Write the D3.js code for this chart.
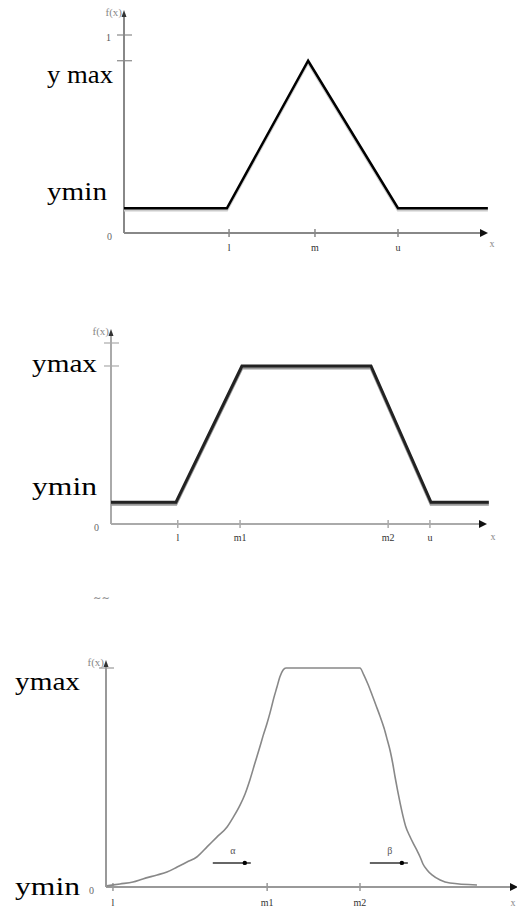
<!DOCTYPE html>
<html>
<head>
<meta charset="utf-8">
<script src="https://cdn.jsdelivr.net/npm/d3@7"></script>
<style>
  html, body { margin: 0; padding: 0; background: #fff; }
  svg { display: block; }
  text { font-family: "Liberation Serif", "DejaVu Serif", serif; }
</style>
</head>
<body>
<div id="chart"></div>
<script>
// --- data: triangular membership function ---
const triX = [0, 2.85, 5.1, 7.59, 10.08];
const triY = [0.125, 0.125, 0.87, 0.125, 0.125];
const triTicks = [2.91, 5.29, 7.59];
const triTickLabels = ["l", "m", "u"];
const triYTicks = [1, 0.87];

// --- data: trapezoidal membership function ---
const trapX = [0, 1.74, 3.51, 6.97, 8.58, 10.13];
const trapY = [0.12, 0.12, 0.873, 0.873, 0.12, 0.12];
const trapTicks = [1.79, 3.46, 7.43, 8.55];
const trapTickLabels = ["l", "m1", "m2", "u"];
const trapYTicks = [1, 0.873];

// --- data: smooth (bell-like) membership function ---
const bellX = [0.02, 0.34, 0.66, 0.90, 1.25, 1.49, 1.74, 1.98, 2.22, 2.47, 2.71, 2.96, 3.11, 3.28,
  3.40, 3.52, 3.64, 3.77, 3.84, 3.94, 4.01, 4.11, 4.18, 4.25, 4.33, 4.40,
  6.21, 6.30, 6.40, 6.50, 6.60, 6.70, 6.80, 6.88, 6.95, 7.01, 7.07, 7.13, 7.19, 7.26,
  7.33, 7.42, 7.51, 7.60, 7.68, 7.75, 7.85, 7.97, 8.17, 8.41, 9.07];
const bellY = [0.005, 0.014, 0.023, 0.037, 0.055, 0.068, 0.091, 0.114, 0.137, 0.183, 0.228, 0.274, 0.318, 0.375,
  0.425, 0.490, 0.565, 0.645, 0.690, 0.749, 0.795, 0.868, 0.913, 0.959, 0.991, 1.0,
  1.0, 0.970, 0.928, 0.880, 0.830, 0.780, 0.725, 0.670, 0.620, 0.565, 0.500, 0.440, 0.384, 0.325,
  0.275, 0.235, 0.200, 0.168, 0.137, 0.105, 0.078, 0.055, 0.032, 0.018, 0.009];
const bellTicks = [0.17, 3.94, 6.21];
const bellTickLabels = ["l", "m1", "m2"];
const bellYTicks = [1];
const noteLabels = ["α", "β"];
const noteX = [3.1, 6.94];
const noteY = [0.11, 0.11];

const width = 517, height = 908;
const svg = d3.select("#chart").append("svg")
  .attr("width", width).attr("height", height);

const panels = [
  {
    xs: triX, ys: triY, ticks: triTicks, tickLabels: triTickLabels, yTicks: triYTicks,
    left: 124, right: 485, base: 233, top: 35, axisTop: 14,
    axisColor: "#888", lineColor: "#000", lineWidth: 2.5, shadow: "#ccc", curve: d3.curveLinear,
    ymaxLabel: "y max", ymaxPos: [47, 83, 66], yminPos: [47, 200, 60],
    oneLabel: true, labelY: 251, xLabelPos: [492, 247]
  },
  {
    xs: trapX, ys: trapY, ticks: trapTicks, tickLabels: trapTickLabels, yTicks: trapYTicks,
    left: 111, right: 484, base: 524, top: 343, axisTop: 333,
    axisColor: "#aaa", lineColor: "#222", lineWidth: 3, shadow: "#999", curve: d3.curveLinear,
    ymaxLabel: "ymax", ymaxPos: [32, 372, 65], yminPos: [32, 495, 65],
    oneLabel: false, labelY: 541, xLabelPos: [493, 540]
  },
  {
    xs: bellX, ys: bellY, ticks: bellTicks, tickLabels: bellTickLabels, yTicks: bellYTicks,
    left: 106, right: 515, base: 887, top: 668, axisTop: 664,
    axisColor: "#999", lineColor: "#888", lineWidth: 1.6, shadow: null, curve: d3.curveMonotoneX,
    ymaxLabel: "ymax", ymaxPos: [15, 690, 65], yminPos: [15, 895, 65],
    oneLabel: false, labelY: 906, xLabelPos: [513, 906], notes: true
  }
];

panels.forEach(p => {
  const x = d3.scaleLinear().domain([0, 10]).range([p.left, p.right]);
  const y = d3.scaleLinear().domain([0, 1]).range([p.base, p.top]);
  const g = svg.append("g");

  // axes
  g.append("line")
    .attr("x1", x(0)).attr("x2", x(10) - 3)
    .attr("y1", y(0)).attr("y2", y(0))
    .attr("stroke", p.axisColor).attr("stroke-width", 2);
  g.append("line")
    .attr("x1", x(0)).attr("x2", x(0))
    .attr("y1", y(0)).attr("y2", p.axisTop)
    .attr("stroke", p.axisColor).attr("stroke-width", 2);

  // arrow heads
  g.append("path")
    .attr("d", `M${x(10) + 3},${y(0)} L${x(10) - 5},${y(0) - 4} L${x(10) - 5},${y(0) + 4} Z`)
    .attr("fill", "#111");
  g.append("path")
    .attr("d", `M${x(0)},${p.axisTop - 4} L${x(0) - 2.5},${p.axisTop + 3} L${x(0) + 2.5},${p.axisTop + 3} Z`)
    .attr("fill", "#333");

  // x ticks
  g.selectAll(".xt").data(p.ticks).enter().append("line")
    .attr("x1", d => x(d)).attr("x2", d => x(d))
    .attr("y1", y(0) - 4).attr("y2", y(0) + 4)
    .attr("stroke", p.axisColor).attr("stroke-width", 1.5);
  g.selectAll(".xl").data(p.ticks).enter().append("text")
    .attr("x", d => x(d)).attr("y", p.labelY)
    .attr("text-anchor", "middle")
    .attr("font-size", 10).attr("fill", "#333")
    .text((d, i) => p.tickLabels[i]);

  // y ticks
  g.selectAll(".yt").data(p.yTicks).enter().append("line")
    .attr("x1", x(0) - 7).attr("x2", x(0) + 8)
    .attr("y1", d => y(d)).attr("y2", d => y(d))
    .attr("stroke", p.axisColor).attr("stroke-width", 1.2);
  if (p.oneLabel) {
    g.append("text")
      .attr("x", x(0) - 18).attr("y", y(1) + 6)
      .attr("font-size", 10).attr("fill", "#555").text("1");
  }

  // axis labels
  g.append("text")
    .attr("x", x(0) - 2).attr("y", p.axisTop + 2)
    .attr("text-anchor", "end")
    .attr("font-size", 11).attr("fill", "#888").text("f(x)");
  g.append("text")
    .attr("x", x(0) - 12).attr("y", y(0) + 7)
    .attr("text-anchor", "end")
    .attr("font-size", 10).attr("fill", "#666").text("0");
  g.append("text")
    .attr("x", p.xLabelPos[0]).attr("y", p.xLabelPos[1])
    .attr("text-anchor", "middle")
    .attr("font-size", 10).attr("fill", "#888").text("x");

  // ymax / ymin labels
  g.append("text")
    .attr("x", p.ymaxPos[0]).attr("y", p.ymaxPos[1])
    .attr("font-size", 26).attr("fill", "#000")
    .attr("textLength", p.ymaxPos[2]).attr("lengthAdjust", "spacingAndGlyphs")
    .text(p.ymaxLabel);
  g.append("text")
    .attr("x", p.yminPos[0]).attr("y", p.yminPos[1])
    .attr("font-size", 26).attr("fill", "#000")
    .attr("textLength", p.yminPos[2]).attr("lengthAdjust", "spacingAndGlyphs")
    .text("ymin");

  // membership function
  const pts = p.xs.map((d, i) => [d, p.ys[i]]);
  const line = d3.line().x(d => x(d[0])).y(d => y(d[1])).curve(p.curve);
  if (p.shadow) {
    g.append("path")
      .attr("d", line(pts))
      .attr("transform", "translate(0,2)")
      .attr("fill", "none").attr("stroke", p.shadow).attr("stroke-width", p.lineWidth);
  }
  g.append("path")
    .attr("d", line(pts))
    .attr("fill", "none")
    .attr("stroke", p.lineColor)
    .attr("stroke-width", p.lineWidth)
    .attr("stroke-linejoin", "miter");

  if (p.notes) {
    // little caption mark above the third panel
    g.append("text")
      .attr("x", x(0) - 13).attr("y", 601)
      .attr("font-size", 10).attr("fill", "#777").text("∼∼");

    noteLabels.forEach((lab, i) => {
      const cx = x(noteX[i]), cy = y(noteY[i]);
      g.append("text")
        .attr("x", cx).attr("y", cy - 9)
        .attr("text-anchor", "middle")
        .attr("font-size", 10).attr("fill", "#555").text(lab);
      g.append("line")
        .attr("x1", cx - 20).attr("x2", cx + 18)
        .attr("y1", cy).attr("y2", cy)
        .attr("stroke", "#666").attr("stroke-width", 2);
      g.append("circle")
        .attr("cx", cx + 12).attr("cy", cy).attr("r", 2.2)
        .attr("fill", "#000");
    });
  }
});
</script>
</body>
</html>
